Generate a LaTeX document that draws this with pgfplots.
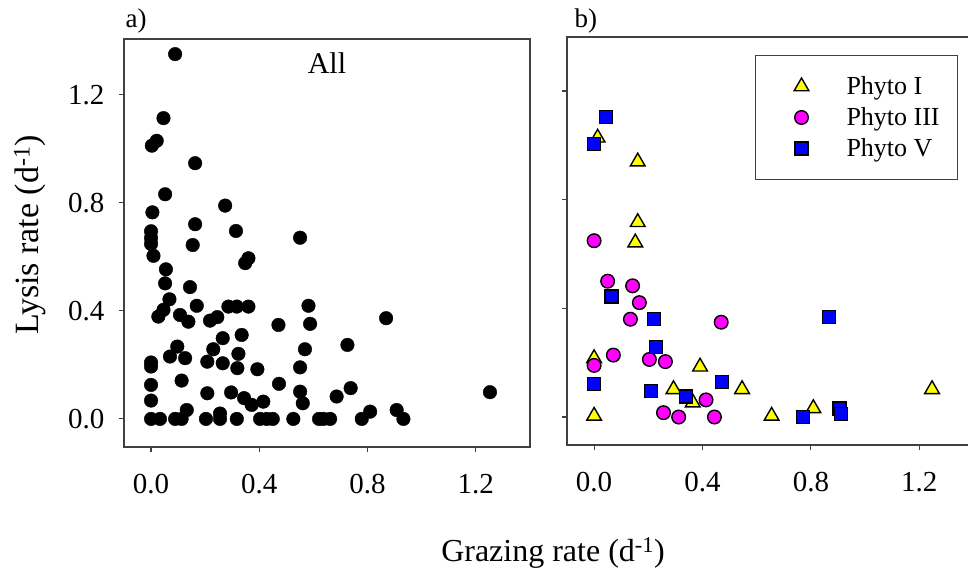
\documentclass[border=0pt]{standalone}
\usepackage{fontspec}
\setmainfont{Liberation Serif}
\usepackage{pgfplots}
\pgfplotsset{compat=1.18}
\definecolor{phyI}{HTML}{FFFF00}
\definecolor{phyIII}{HTML}{FF00FF}
\definecolor{phyV}{HTML}{0000FF}
\definecolor{spine}{HTML}{404040}
\newcommand\tfont{\fontsize{29}{33}\selectfont}
\newcommand\legfont{\fontsize{26}{30}\selectfont}
\pgfplotsset{
  mystyle/.style={
    scale only axis,
    axis line style={spine, line width=1.2pt},
    tick style={spine, line width=1.1pt},
    tick align=outside,
    major tick length=5pt,
    xtick pos=bottom, ytick pos=left,
    xtick={0,0.4,0.8,1.2}, ytick={0,0.4,0.8,1.2},
    tick label style={font=\tfont},
    /pgf/number format/fixed,
    /pgf/number format/fixed zerofill,
    /pgf/number format/precision=1,
    /pgf/number format/assume math mode=true,
    xticklabel shift=19pt,
    yticklabel shift=11pt,
  },
}
\begin{document}
\begin{tikzpicture}
\path[use as bounding box] (0pt,0pt) rectangle (968pt,570pt);
% ---------------- panel a
\begin{axis}[mystyle,
  at={(124pt,123pt)}, anchor=south west,
  width=406pt, height=408pt,
  xmin=-0.1, xmax=1.401, ymin=-0.104, ymax=1.407]
\addplot[only marks, mark=*, mark size=6.8pt, black] coordinates {
(0.089,1.351) (0.046,1.114) (0.003,1.012) (0.021,1.03) (0.163,0.947)
(0.052,0.832) (0.274,0.79) (0.005,0.765) (0.163,0.721) (0.314,0.696)
(0.551,0.671) (0.0,0.695) (0.0,0.67) (0.0,0.648) (0.154,0.644)
(0.009,0.604) (0.36,0.595) (0.348,0.577) (0.055,0.554) (0.052,0.502)
(0.144,0.488) (0.068,0.443) (0.169,0.419) (0.286,0.416) (0.317,0.416)
(0.36,0.416) (0.582,0.419) (0.046,0.404) (0.027,0.379) (0.107,0.385)
(0.138,0.36) (0.218,0.364) (0.245,0.377) (0.471,0.348) (0.588,0.352)
(0.265,0.299) (0.335,0.311) (0.097,0.268) (0.07,0.231) (0.126,0.225)
(0.23,0.258) (0.208,0.212) (0.265,0.206) (0.323,0.241) (0.569,0.258)
(0.0,0.209) (0.0,0.194) (0.319,0.188) (0.393,0.184) (0.551,0.191)
(0.113,0.142) (0.0,0.126) (0.473,0.13) (0.208,0.095) (0.296,0.098)
(0.344,0.077) (0.372,0.052) (0.415,0.064) (0.551,0.101) (0.561,0.058)
(0.0,0.068) (0.132,0.033) (0.255,0.02)
(0.0,0.0) (0.033,0.0) (0.089,0.0) (0.113,0.0) (0.203,0.0) (0.255,0.0)
(0.317,0.0) (0.403,0.0) (0.428,0.0) (0.45,0.0) (0.526,0.0) (0.621,0.0)
(0.869,0.373) (0.726,0.274) (0.738,0.114) (0.686,0.083) (0.637,0.0)
(0.662,0.0) (0.779,0.0) (0.81,0.027) (0.908,0.033) (0.933,0.0) (1.253,0.099)
};
\end{axis}
% ---------------- panel b
\begin{axis}[mystyle,
  at={(567pt,125pt)}, anchor=south west,
  width=406.5pt, height=408pt,
  xmin=-0.1, xmax=1.4, ymin=-0.103, ymax=1.399,
  yticklabels={},
  legend style={at={(0.962,0.956)}, anchor=north east,
    draw=spine, line width=1.1pt, fill=white,
    inner xsep=0pt, inner ysep=15.5pt,
    row sep=0pt, column sep=0pt,
    nodes={inner sep=0pt, draw=none, font=\legfont}},
  legend cell align=left,
  legend image code/.code={\path[draw=none, fill=none] (-46pt,-15.5pt) rectangle (45pt,15.5pt);
    \draw[#1] plot coordinates {(0pt,0pt)};},
]
\addplot[only marks, mark=triangle*, mark size=8.5pt,
  mark options={fill=phyI, draw=black, line width=1.4pt}] coordinates {
(0.013,1.028) (0.161,0.94) (0.161,0.717) (0.152,0.642) (0,0.216)
(0.391,0.185) (0.546,0.102) (0.293,0.102) (0.364,0.053) (0,0.004)
(0.655,0.004) (0.809,0.032) (1.247,0.102)
};
\addlegendentry{\makebox[111pt][l]{Phyto I}}
\addplot[only marks, mark=*, mark size=6.8pt,
  mark options={fill=phyIII, draw=black, line width=1.4pt}] coordinates {
(0,0.649) (0.05,0.5) (0.142,0.483) (0.167,0.421) (0.134,0.36)
(0.469,0.349) (0.071,0.228) (0,0.19) (0.204,0.212) (0.263,0.204)
(0.413,0.063) (0.256,0.016) (0.312,0.0) (0.444,0.0)
};
\addlegendentry{\makebox[111pt][l]{Phyto III}}
\addplot[only marks, mark=square*, mark size=6.5pt,
  mark options={fill=phyV, draw=black, line width=1.4pt}] coordinates {
(0.044,1.105) (0,1.006) (0.064,0.443) (0.222,0.36) (0.229,0.257)
(0,0.121) (0.471,0.128) (0.209,0.095) (0.339,0.075) (0.77,0.0)
(0.866,0.369) (0.905,0.032) (0.911,0.011)
};
\addlegendentry{\makebox[111pt][l]{Phyto V}}
\end{axis}
% ---------------- texts
\node[anchor=west, font=\fontsize{27}{30}\selectfont] at (122pt,549pt) {a)};
\node[anchor=west, font=\fontsize{27}{30}\selectfont] at (571pt,549pt) {b)};
\node[font=\fontsize{30}{34}\selectfont] at (327pt,507pt) {All};
\node[rotate=90, font=\fontsize{34}{38}\selectfont] at (30pt,335pt) {Lysis rate (d\textsuperscript{-1})};
\node[font=\fontsize{32}{36}\selectfont] at (553pt,17pt) {Grazing rate (d\textsuperscript{-1})};
\end{tikzpicture}
\end{document}
